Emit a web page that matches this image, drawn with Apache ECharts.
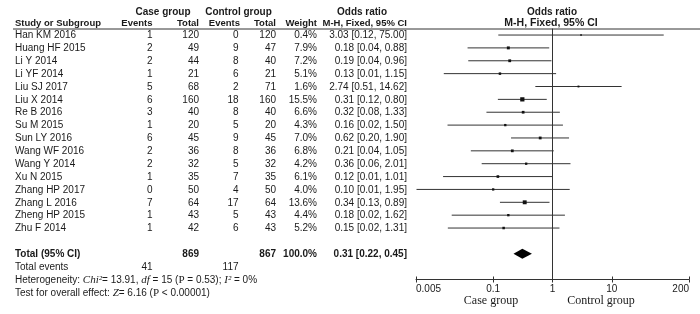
<!DOCTYPE html>
<html>
<head>
<meta charset="utf-8">
<script src="https://cdn.jsdelivr.net/npm/echarts@6/dist/echarts.min.js"></script>
<style>
  html, body { margin: 0; background: #fff; }
  #chart { width: 700px; height: 314px; }
</style>
</head>
<body>
<div id="chart"></div>
<script>
const studies = ['Han KM 2016', 'Huang HF 2015', 'Li Y 2014', 'Li YF 2014', 'Liu SJ 2017', 'Liu X 2014', 'Re B 2016', 'Su M 2015',
  'Sun LY 2016', 'Wang WF 2016', 'Wang Y 2014', 'Xu N 2015', 'Zhang HP 2017', 'Zhang L 2016', 'Zheng HP 2015', 'Zhu F 2014']
const caseEvents = [1, 2, 2, 1, 5, 6, 3, 1, 6, 2, 2, 1, 0, 7, 1, 1]
const caseTotal = [120, 49, 44, 21, 68, 160, 40, 20, 45, 36, 32, 35, 50, 64, 43, 42]
const ctrlEvents = [0, 9, 8, 6, 2, 18, 8, 5, 9, 8, 5, 7, 4, 17, 5, 6]
const ctrlTotal = [120, 47, 40, 21, 71, 160, 40, 20, 45, 36, 32, 35, 50, 64, 43, 43]
const weights = [0.4, 7.9, 7.2, 5.1, 1.6, 15.5, 6.6, 4.3, 7.0, 6.8, 4.2, 6.1, 4.0, 13.6, 4.4, 5.2]
const oddsRatio = [3.03, 0.18, 0.19, 0.13, 2.74, 0.31, 0.32, 0.16, 0.62, 0.21, 0.36, 0.12, 0.10, 0.34, 0.18, 0.15]
const ciLower = [0.122, 0.037, 0.038, 0.0147, 0.514, 0.12, 0.077, 0.017, 0.20, 0.042, 0.064, 0.0143, 0.0051, 0.13, 0.020, 0.0172]
const ciUpper = [75.00, 0.88, 0.96, 1.15, 14.62, 0.80, 1.33, 1.50, 1.90, 1.05, 2.01, 1.01, 1.95, 0.89, 1.62, 1.31]
const pooled = [0.31, 0.22, 0.45] // OR, lower, upper
const totalCase = 869
const totalCtrl = 867
const totalCaseEvents = 41
const totalCtrlEvents = 117
const axisTicks = [0.005, 0.1, 1, 10, 200]

const FONT = '"Liberation Sans", Arial, sans-serif'
const SERIF = '"Liberation Serif", "Times New Roman", serif'
const INK = '#1a1a1a'
const LINE = '#333'
// table column anchors (px)
const COLS = { name: 15, caseE: 152.5, caseT: 199, ctrlE: 238.5, ctrlT: 276, weight: 317, or: 407 }
const ROW_TOTAL = 17

function fmt(v) {
  return v.toFixed(2)
}

function txt(text, x, y, align, extra) {
  return {
    type: 'text',
    x: x,
    y: y,
    style: Object.assign({
      text: text,
      font: '10px ' + FONT,
      fill: INK,
      align: align,
      verticalAlign: 'middle'
    }, extra || {})
  }
}

const chart = echarts.init(document.getElementById('chart'))

function renderTable(params, api) {
  const i = api.value(0)
  const y = api.coord([1, i])[1] + 0.5
  return {
    type: 'group',
    children: [
      txt(studies[i], COLS.name, y, 'left'),
      txt(String(caseEvents[i]), COLS.caseE, y, 'right'),
      txt(String(caseTotal[i]), COLS.caseT, y, 'right'),
      txt(String(ctrlEvents[i]), COLS.ctrlE, y, 'right'),
      txt(String(ctrlTotal[i]), COLS.ctrlT, y, 'right'),
      txt(weights[i].toFixed(1) + '%', COLS.weight, y, 'right'),
      txt(fmt(oddsRatio[i]) + ' [' + fmt(ciLower[i]) + ', ' + fmt(ciUpper[i]) + ']', COLS.or, y, 'right')
    ]
  }
}

function renderSummary(params, api) {
  const yAt = r => api.coord([1, r])[1] + 0.5
  const bold = { font: 'bold 10px ' + FONT }
  const it = { fontFamily: SERIF, fontStyle: 'italic', fontSize: 11, fill: INK }
  const sf = { fontFamily: SERIF, fontSize: 11, fill: INK }
  const y0 = yAt(ROW_TOTAL)
  const y1 = yAt(ROW_TOTAL + 1)
  const y2 = yAt(ROW_TOTAL + 2)
  const y3 = yAt(ROW_TOTAL + 3)
  return {
    type: 'group',
    children: [
      txt('Total (95% CI)', COLS.name, y0, 'left', bold),
      txt(String(totalCase), COLS.caseT, y0, 'right', bold),
      txt(String(totalCtrl), COLS.ctrlT, y0, 'right', bold),
      txt('100.0%', COLS.weight, y0, 'right', bold),
      txt(fmt(pooled[0]) + ' [' + fmt(pooled[1]) + ', ' + fmt(pooled[2]) + ']', COLS.or, y0, 'right', bold),
      txt('Total events', COLS.name, y1, 'left'),
      txt(String(totalCaseEvents), COLS.caseE, y1, 'right'),
      txt(String(totalCtrlEvents), COLS.ctrlE, y1, 'right'),
      txt('Heterogeneity: {i|Chi²}= 13.91, {i|df} = 15 ({s|P} = 0.53); {i|I²} = 0%', COLS.name, y2, 'left', {
        rich: { i: it, s: sf }
      }),
      txt('Test for overall effect: {i|Z}= 6.16 ({s|P} < 0.00001)', COLS.name, y3, 'left', {
        rich: { i: it, s: sf }
      })
    ]
  }
}

function renderStudy(params, api) {
  const y = api.value(0)
  const p0 = api.coord([api.value(2), y])
  const p1 = api.coord([api.value(3), y])
  const c = api.coord([api.value(1), y])
  const s = 1.6 + api.value(4) * 0.17
  return {
    type: 'group',
    children: [
      { type: 'line', shape: { x1: p0[0], y1: p0[1], x2: p1[0], y2: p1[1] }, style: { stroke: LINE, lineWidth: 1 } },
      { type: 'rect', shape: { x: c[0] - s / 2, y: c[1] - s / 2, width: s, height: s }, style: { fill: '#111' } }
    ]
  }
}

function renderDiamond(params, api) {
  const r = api.value(0)
  const c = api.coord([api.value(1), r])
  const l = api.coord([api.value(2), r])
  const h = api.coord([api.value(3), r])
  return {
    type: 'polygon',
    shape: { points: [[l[0], c[1]], [c[0], c[1] - 5], [h[0], c[1]], [c[0], c[1] + 5]] },
    style: { fill: '#000' }
  }
}

const studyData = studies.map((s, i) => [i, oddsRatio[i], ciLower[i], ciUpper[i], weights[i]])
const headBold = { font: 'bold 10px ' + FONT }
const subBold = { font: 'bold 9.5px ' + FONT }

chart.setOption({
  animation: false,
  grid: { left: 416, right: 11, top: 28.6, bottom: 34.5 },
  xAxis: [
    {
      type: 'log',
      logBase: 10,
      min: 0.005,
      max: 200,
      position: 'bottom',
      axisLine: { show: true, onZero: false, lineStyle: { color: LINE, width: 1 } },
      axisTick: { show: true, length: 3, customValues: axisTicks, lineStyle: { color: LINE } },
      axisLabel: {
        customValues: axisTicks,
        formatter: v => String(+v.toPrecision(3)),
        color: INK,
        fontFamily: FONT,
        fontSize: 10,
        margin: 5,
        alignMinLabel: 'left',
        alignMaxLabel: 'right'
      },
      splitLine: { show: false },
      minorTick: { show: false }
    },
    {
      type: 'log',
      logBase: 10,
      min: 0.005,
      max: 200,
      position: 'bottom',
      offset: 0,
      axisLine: { show: false, onZero: false },
      axisTick: { show: true, inside: true, length: 3, customValues: axisTicks, lineStyle: { color: LINE } },
      axisLabel: { show: false },
      splitLine: { show: false }
    }
  ],
  yAxis: {
    type: 'value',
    inverse: true,
    min: -0.5,
    max: 19,
    show: false
  },
  graphic: [
    txt('Case group', 163, 12, 'center', headBold),
    txt('Control group', 238.5, 12, 'center', headBold),
    txt('Odds ratio', 362, 12, 'center', headBold),
    txt('Odds ratio', 552, 12, 'center', headBold),
    txt('Study or Subgroup', COLS.name, 23.5, 'left', subBold),
    txt('Events', COLS.caseE, 23.5, 'right', subBold),
    txt('Total', COLS.caseT, 23.5, 'right', subBold),
    txt('Events', 240, 23.5, 'right', subBold),
    txt('Total', COLS.ctrlT, 23.5, 'right', subBold),
    txt('Weight', COLS.weight, 23.5, 'right', subBold),
    txt('M-H, Fixed, 95% CI', COLS.or, 23.5, 'right', subBold),
    txt('M-H, Fixed, 95% CI', 551, 23.5, 'center', { font: 'bold 10.5px ' + FONT }),
    {
      type: 'line',
      shape: { x1: 13, y1: 29, x2: 700, y2: 29 },
      style: { stroke: LINE, lineWidth: 1 }
    },
    txt('Case group', 491, 301, 'center', { font: '12px ' + SERIF }),
    txt('Control group', 601, 301, 'center', { font: '12px ' + SERIF })
  ],
  series: [
    {
      name: 'table',
      type: 'custom',
      silent: true,
      clip: false,
      renderItem: renderTable,
      data: studies.map((s, i) => [i, 1]),
      encode: { x: 1, y: 0 }
    },
    {
      name: 'summary',
      type: 'custom',
      silent: true,
      clip: false,
      renderItem: renderSummary,
      data: [[ROW_TOTAL, 1]],
      encode: { x: 1, y: 0 }
    },
    {
      name: 'studies',
      type: 'custom',
      clip: false,
      renderItem: renderStudy,
      data: studyData,
      encode: { x: [1, 2, 3], y: 0 },
      markLine: {
        silent: true,
        symbol: 'none',
        label: { show: false },
        lineStyle: { color: LINE, type: 'solid', width: 1 },
        data: [{ xAxis: 1 }]
      }
    },
    {
      name: 'pooled',
      type: 'custom',
      renderItem: renderDiamond,
      data: [[ROW_TOTAL, pooled[0], pooled[1], pooled[2]]],
      encode: { x: [1, 2, 3], y: 0 }
    }
  ]
})
</script>
</body>
</html>
